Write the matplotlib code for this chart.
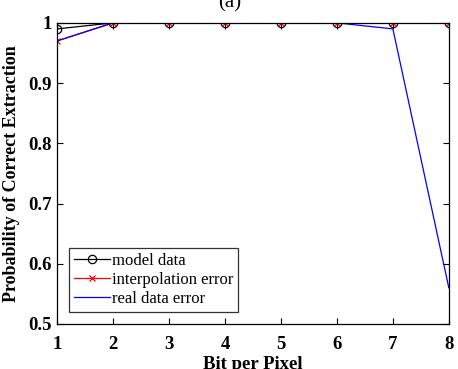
import numpy as np
import matplotlib
matplotlib.use("Agg")
from matplotlib import pyplot as plt

bits = [1, 2, 3, 4, 5, 6, 7, 8]
model_data = [0.99, 1.0, 1.0, 1.0, 1.0, 1.0, 1.0, 1.0]
interp_error = [0.97, 1.0, 1.0, 1.0, 1.0, 1.0, 1.0, 1.0]
real_error = [0.97, 1.0, 1.0, 1.0, 1.0, 1.0, 0.99, 0.56]

yticks = [0.5, 0.6, 0.7, 0.8, 0.9, 1.0]
ytick_labels = ["0.5", "0.6", "0.7", "0.8", "0.9", "1"]

plt.rcParams['font.family'] = ['Liberation Serif', 'DejaVu Serif']

fig = plt.figure(figsize=(4.58, 3.69), dpi=100)
ax = fig.add_axes([0.1245, 0.122, 0.8555, 0.816])

ax.plot(bits, model_data, color='black', lw=0.9, marker='o', ms=6,
        mfc='none', mew=0.9, label='model data')
ax.plot(bits, interp_error, color='red', lw=0.9, marker='x', ms=5,
        mew=0.9, label='interpolation error')
ax.plot(bits, real_error, color='blue', lw=0.9, label='real data error')

ax.set_xlim(1, 8)
ax.set_ylim(0.5, 1.0)
ax.set_xticks(bits)
ax.set_yticks(yticks)
ax.set_yticklabels(ytick_labels)
ax.tick_params(direction='in', top=True, right=True, length=4, width=0.8,
               labelsize=13.5)
ax.tick_params(axis='x', pad=9)
ax.tick_params(axis='y', pad=4)
for lab in ax.get_xticklabels() + ax.get_yticklabels():
    lab.set_fontweight('bold')
for s in ax.spines.values():
    s.set_linewidth(0.9)

ax.set_ylabel('Probability of Correct Extraction', fontsize=13,
              fontweight='bold', labelpad=6)
ax.set_xlabel('Bit per Pixel', fontsize=13.5, fontweight='bold', labelpad=2)

leg = ax.legend(loc='lower left', fontsize=12, frameon=True, fancybox=False,
                edgecolor='black', handlelength=2.15, handletextpad=0.15,
                borderpad=0.3, labelspacing=0.2, borderaxespad=0.7)
leg.get_frame().set_linewidth(0.9)

fig.text(230 / 458, 1 - 7 / 369, '(a)', fontsize=15,
         ha='center', va='baseline')

fig.savefig('out.png', dpi=100)
